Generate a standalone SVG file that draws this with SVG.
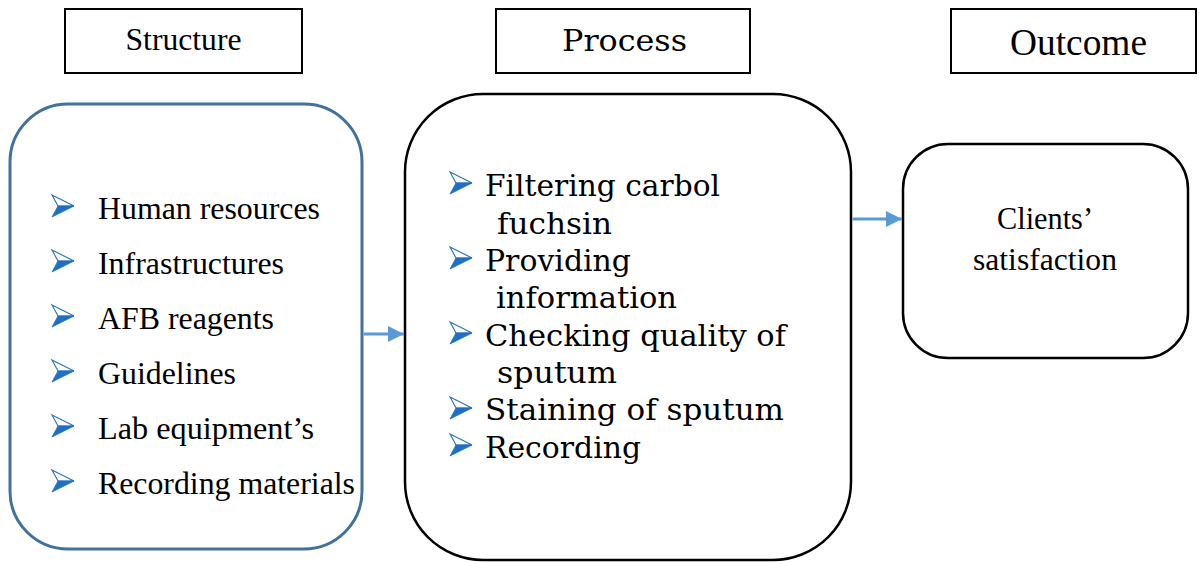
<svg xmlns="http://www.w3.org/2000/svg" width="1199" height="562" viewBox="0 0 1199 562">
<style>
.hdr{fill:#fff;stroke:#000;stroke-width:2}
.tm{font-family:'Liberation Serif',serif;fill:#000}
.cs{font-family:'DejaVu Serif',serif;fill:#000}
.conn{stroke:#5B9BD5;stroke-width:3;fill:none}
</style>
<defs>
<g id="bul">
<polygon points="0,0 22,11 6,11" fill="#fff" stroke="#2E75B6" stroke-width="1.2" stroke-linejoin="miter"/>
<polygon points="6,11 22,11 0,22" fill="#1F6FC4" stroke="#1F6FC4" stroke-width="0.8"/>
</g>
<marker id="ah" markerUnits="userSpaceOnUse" markerWidth="16" markerHeight="16" refX="16" refY="8" orient="auto">
<polygon points="0,0 16,8 0,16" fill="#5B9BD5"/>
</marker>
</defs>
<rect width="1199" height="562" fill="#fff"/>

<g id="header-structure">
<rect class="hdr" x="65" y="9" width="237" height="64"/>
<text class="tm" font-family="Liberation Serif" x="183.5" y="50" font-size="31" text-anchor="middle" textLength="116" lengthAdjust="spacingAndGlyphs">Structure</text>
</g>
<g id="header-process">
<rect class="hdr" x="496" y="9" width="254" height="64"/>
<text class="cs" x="624.5" y="51" font-size="29" text-anchor="middle" textLength="125" lengthAdjust="spacingAndGlyphs">Process</text>
</g>
<g id="header-outcome">
<rect class="hdr" x="951" y="9" width="245" height="64"/>
<text class="tm" font-family="Liberation Serif" x="1078.5" y="55" font-size="37" text-anchor="middle" textLength="137" lengthAdjust="spacingAndGlyphs">Outcome</text>
</g>

<g id="structure">
<rect x="10" y="104" width="352" height="445" rx="58" ry="58" fill="#fff" stroke="#41719C" stroke-width="3"/>
<use href="#bul" x="52" y="195"/>
<use href="#bul" x="52" y="250"/>
<use href="#bul" x="52" y="305"/>
<use href="#bul" x="52" y="360"/>
<use href="#bul" x="52" y="415"/>
<use href="#bul" x="52" y="470"/>
<g class="tm" font-family="Liberation Serif" font-size="31.5">
<text x="98" y="219" textLength="222" lengthAdjust="spacingAndGlyphs">Human resources</text>
<text x="98" y="274" textLength="186" lengthAdjust="spacingAndGlyphs">Infrastructures</text>
<text x="98" y="329" textLength="176" lengthAdjust="spacingAndGlyphs">AFB reagents</text>
<text x="98" y="384" textLength="138" lengthAdjust="spacingAndGlyphs">Guidelines</text>
<text x="98" y="439" textLength="216" lengthAdjust="spacingAndGlyphs">Lab equipment’s</text>
<text x="98" y="494" textLength="257" lengthAdjust="spacingAndGlyphs">Recording materials</text>
</g>
</g>

<g id="process">
<rect x="405" y="94" width="446" height="466" rx="78" ry="78" fill="#fff" stroke="#000" stroke-width="2.5"/>
<use href="#bul" x="450" y="172"/>
<use href="#bul" x="450" y="247"/>
<use href="#bul" x="450" y="322"/>
<use href="#bul" x="450" y="397"/>
<use href="#bul" x="450" y="434"/>
<g class="cs" font-size="30">
<text x="485" y="196" textLength="235" lengthAdjust="spacingAndGlyphs">Filtering carbol</text>
<text x="497" y="233.5" textLength="115" lengthAdjust="spacingAndGlyphs">fuchsin</text>
<text x="485" y="271" textLength="146" lengthAdjust="spacingAndGlyphs">Providing</text>
<text x="496" y="308" textLength="181" lengthAdjust="spacingAndGlyphs">information</text>
<text x="485" y="345.5" textLength="301" lengthAdjust="spacingAndGlyphs">Checking quality of</text>
<text x="497" y="383" textLength="120" lengthAdjust="spacingAndGlyphs">sputum</text>
<text x="485" y="420" textLength="299" lengthAdjust="spacingAndGlyphs">Staining of sputum</text>
<text x="485" y="457.5" textLength="156" lengthAdjust="spacingAndGlyphs">Recording</text>
</g>
</g>

<g id="outcome">
<rect x="903" y="144" width="285" height="214" rx="45" ry="45" fill="#fff" stroke="#000" stroke-width="2.5"/>
<g class="tm" font-family="Liberation Serif" font-size="31" text-anchor="middle">
<text x="1045" y="229" textLength="96" lengthAdjust="spacingAndGlyphs">Clients’</text>
<text x="1045" y="270" textLength="144" lengthAdjust="spacingAndGlyphs">satisfaction</text>
</g>
</g>

<g id="connectors">
<line class="conn" x1="363.5" y1="334" x2="404" y2="334" marker-end="url(#ah)"/>
<line class="conn" x1="852.5" y1="219" x2="902" y2="219" marker-end="url(#ah)"/>
</g>
</svg>
